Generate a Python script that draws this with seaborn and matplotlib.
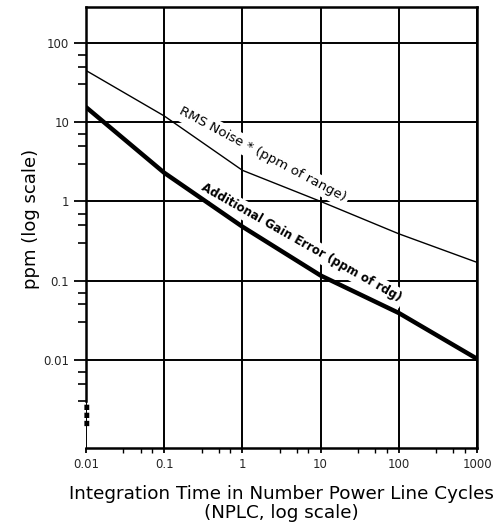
import numpy as np
import pandas as pd
import matplotlib
matplotlib.use("Agg")
import matplotlib.pyplot as plt
import matplotlib.ticker as mticker
import matplotlib.transforms as mtransforms
import seaborn as sns

# ---- data ----
nplc = [0.01, 0.1, 1, 10, 100, 1000]
rms_noise = [45, 12, 2.47, 1.0, 0.39, 0.17]
gain_error = [15.5, 2.3, 0.48, 0.116, 0.039, 0.0103]
x_ticks = [0.01, 0.1, 1, 10, 100, 1000]
x_tick_labels = ["0.01", "0.1", "1", "10", "100", "1000"]
y_ticks = [0.01, 0.1, 1, 10, 100]
y_tick_labels = ["0.01", "0.1", "1", "10", "100"]
label_rms = "RMS Noise * (ppm of range)"
label_gain = "Additional Gain Error (ppm of rdg)"
x_title = "Integration Time in Number Power Line Cycles\n(NPLC, log scale)"
y_title = "ppm (log scale)"

sns.set_theme(style="white")
plt.rcParams["font.family"] = ["DejaVu Sans"]

df = pd.DataFrame({
    "nplc": nplc * 2,
    "ppm": rms_noise + gain_error,
    "series": [label_rms] * len(nplc) + [label_gain] * len(nplc),
})

fig = plt.figure(figsize=(4.98, 5.31), dpi=100)
ax = fig.add_axes([86 / 498, 1 - 448 / 531, (477 - 86) / 498, (448 - 7) / 531])

sns.lineplot(data=df, x="nplc", y="ppm", hue="series", size="series",
             sizes={label_rms: 1.0, label_gain: 3.2},
             palette={label_rms: "black", label_gain: "black"},
             legend=False, ax=ax, zorder=5)

ax.set_xscale("log")
ax.set_yscale("log")
ax.set_xlim(0.01, 1000)
ax.set_ylim(0.00077, 285)

ax.xaxis.set_major_locator(mticker.FixedLocator(x_ticks))
ax.xaxis.set_major_formatter(mticker.FixedFormatter(x_tick_labels))
ax.xaxis.set_minor_locator(mticker.LogLocator(base=10, subs=[3, 5, 7]))
ax.xaxis.set_minor_formatter(mticker.NullFormatter())
ax.yaxis.set_major_locator(mticker.FixedLocator(y_ticks))
ax.yaxis.set_major_formatter(mticker.FixedFormatter(y_tick_labels))
ax.yaxis.set_minor_locator(mticker.FixedLocator(
    [m * 10.0 ** e for e in range(-3, 3) for m in (3, 5, 7)]))
ax.yaxis.set_minor_formatter(mticker.NullFormatter())

ax.grid(True, which="major", color="black", linewidth=1.4)
ax.set_axisbelow(True)

for side in ["left", "right", "top", "bottom"]:
    ax.spines[side].set_color("black")
    ax.spines[side].set_linewidth(1.8)
ax.spines["left"].set_bounds(0.003, 285)

ax.tick_params(axis="y", which="major", direction="out", length=9, width=1.3,
               color="black", labelsize=8.5, pad=3, left=True)
ax.tick_params(axis="y", which="minor", direction="out", length=5.5, width=1.2,
               color="black", left=True)
ax.tick_params(axis="x", which="major", direction="out", length=3.5, width=1.3,
               color="black", labelsize=8.5, pad=4, bottom=True)
ax.tick_params(axis="x", which="minor", direction="out", length=3.5, width=1.0,
               color="black", bottom=True)

ax.set_xlabel(x_title, fontsize=13.2, labelpad=10, color="black", linespacing=1.05)
ax.set_ylabel(y_title, fontsize=13, labelpad=4, color="black")
ax.yaxis.set_label_coords(-0.118, 0.52)

# axis-break dots on the left spine
trans = mtransforms.blended_transform_factory(ax.transAxes, ax.transData)
ax.text(0.002, 0.0019, "\u22ee", transform=trans, ha="center", va="center",
        fontsize=20, fontweight="bold", color="black")

# curve labels
ax.text(1.8, 3.9, label_rms, rotation=-28, ha="center", va="center",
        rotation_mode="anchor", fontsize=9.6, color="black", zorder=4,
        bbox=dict(boxstyle="square,pad=0.25", facecolor="white", edgecolor="none"))
ax.text(5.7, 0.30, label_gain, rotation=-29.5, ha="center", va="center",
        rotation_mode="anchor", fontsize=8.5, fontweight="bold", color="black", zorder=4,
        bbox=dict(boxstyle="square,pad=0.25", facecolor="white", edgecolor="none"))

fig.savefig("out.png", dpi=100, facecolor="white")
